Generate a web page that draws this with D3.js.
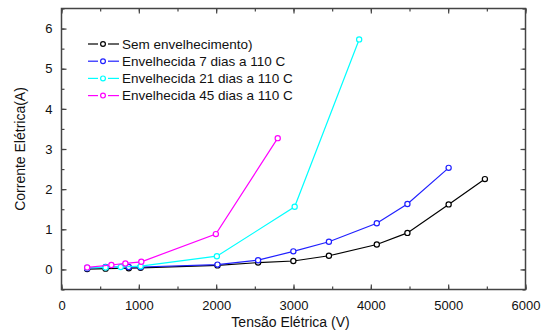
<!DOCTYPE html>
<html>
<head>
<meta charset="utf-8">
<script src="https://cdn.jsdelivr.net/npm/d3@7"></script>
<style>
  body { margin: 0; background: #fff; }
  svg text { font-family: "Liberation Sans", Arial, sans-serif; font-size: 13px; fill: #111; }
</style>
</head>
<body>
<svg id="chart" width="550" height="335"></svg>
<script>
// dados
const seriesNames = ["Sem envelhecimento)", "Envelhecida 7 dias a 110 C", "Envelhecida 21 dias a 110 C", "Envelhecida 45 dias a 110 C"];
const seriesColors = ["#000000", "#2020ff", "#00ffff", "#ff00ff"];
const vSem = [332, 570, 870, 1023, 2017, 2542, 2998, 3458, 4077, 4473, 5006, 5475];
const iSem = [0.01, 0.02, 0.03, 0.04, 0.10, 0.17, 0.21, 0.34, 0.62, 0.91, 1.62, 2.25];
const v7 = [332, 570, 870, 1023, 2017, 2542, 2998, 3458, 4077, 4473, 5006];
const i7 = [0.03, 0.06, 0.06, 0.06, 0.12, 0.23, 0.45, 0.69, 1.15, 1.63, 2.53];
const v21 = [332, 570, 766, 1023, 2009, 3015, 3849];
const i21 = [0.04, 0.05, 0.06, 0.08, 0.33, 1.56, 5.73];
const v45 = [332, 645, 826, 1032, 1996, 2796];
const i45 = [0.05, 0.11, 0.15, 0.19, 0.88, 3.27];
const xTicks = [0, 1000, 2000, 3000, 4000, 5000, 6000];
const yTicks = [0, 1, 2, 3, 4, 5, 6];

const svg = d3.select("#chart");
const plot = {left: 61.5, right: 525.5, top: 8.5, bottom: 289.5};

const x = d3.scaleLinear().domain([0, 6000]).range([plot.left, plot.right]);
const y = d3.scaleLinear().domain([-0.5, 6.5]).range([plot.bottom, plot.top]);

const series = [
  {v: vSem, i: iSem},
  {v: v7, i: i7},
  {v: v21, i: i21},
  {v: v45, i: i45}
];

// eixos com ticks para dentro
const frame = "#444";
function styleAxis(g) {
  g.select(".domain").remove();
  g.selectAll("line").attr("stroke", frame).attr("stroke-width", 1.2);
}
const xMinor = d3.range(0, 6001, 500);
const yMinor = d3.range(-0.5, 6.51, 0.5);

svg.append("g").attr("transform", `translate(0,${plot.bottom})`)
  .call(d3.axisBottom(x).tickValues(xMinor).tickSize(-3).tickFormat(""))
  .call(styleAxis);
svg.append("g").attr("transform", `translate(0,${plot.bottom})`)
  .call(d3.axisBottom(x).tickValues(xTicks).tickSize(-5).tickPadding(11).tickFormat(d3.format("d")))
  .call(styleAxis);
svg.append("g").attr("transform", `translate(0,${plot.top})`)
  .call(d3.axisTop(x).tickValues(xMinor).tickSize(-3).tickFormat(""))
  .call(styleAxis);
svg.append("g").attr("transform", `translate(0,${plot.top})`)
  .call(d3.axisTop(x).tickValues(xTicks).tickSize(-5).tickFormat(""))
  .call(styleAxis);
svg.append("g").attr("transform", `translate(${plot.left},0)`)
  .call(d3.axisLeft(y).tickValues(yMinor).tickSize(-3).tickFormat(""))
  .call(styleAxis);
svg.append("g").attr("transform", `translate(${plot.left},0)`)
  .call(d3.axisLeft(y).tickValues(yTicks).tickSize(-5).tickPadding(9).tickFormat(d3.format("d")))
  .call(styleAxis);
svg.append("g").attr("transform", `translate(${plot.right},0)`)
  .call(d3.axisRight(y).tickValues(yMinor).tickSize(-3).tickFormat(""))
  .call(styleAxis);
svg.append("g").attr("transform", `translate(${plot.right},0)`)
  .call(d3.axisRight(y).tickValues(yTicks).tickSize(-5).tickFormat(""))
  .call(styleAxis);

svg.selectAll(".tick text").style("font-size", "13px").attr("fill", "#111");

svg.append("rect")
  .attr("x", plot.left).attr("y", plot.top)
  .attr("width", plot.right - plot.left).attr("height", plot.bottom - plot.top)
  .attr("fill", "none").attr("stroke", frame).attr("stroke-width", 1.5);

// linhas e marcadores
const line = d3.line().x(d => x(d[0])).y(d => y(d[1]));
series.forEach((s, k) => {
  const pts = s.v.map((v, j) => [v, s.i[j]]);
  svg.append("path").datum(pts)
    .attr("d", line)
    .attr("fill", "none")
    .attr("stroke", seriesColors[k])
    .attr("stroke-width", 1.2);
  svg.append("g").selectAll("circle")
    .data(pts)
    .join("circle")
    .attr("cx", d => x(d[0]))
    .attr("cy", d => y(d[1]))
    .attr("r", 2.6)
    .attr("fill", "#fff")
    .attr("stroke", seriesColors[k])
    .attr("stroke-width", 1.2);
});

// legenda: "— o —"
const legend = svg.append("g").attr("transform", "translate(88,44)");
seriesNames.forEach((name, k) => {
  const g = legend.append("g").attr("transform", `translate(0,${k * 17.2})`);
  [[0, 10], [20, 31]].forEach(seg => {
    g.append("line").attr("x1", seg[0]).attr("x2", seg[1]).attr("y1", 0).attr("y2", 0)
      .attr("stroke", seriesColors[k]).attr("stroke-width", 1.2);
  });
  g.append("circle").attr("cx", 15).attr("cy", 0).attr("r", 2.4)
    .attr("fill", "#fff").attr("stroke", seriesColors[k]).attr("stroke-width", 1.2);
  g.append("text").attr("x", 34).attr("y", 0).attr("dy", "0.35em")
    .style("font-size", "13.5px").text(name);
});

// títulos dos eixos
svg.append("text")
  .attr("x", (plot.left + plot.right) / 2 - 3).attr("y", 327)
  .attr("text-anchor", "middle")
  .style("font-size", "14px")
  .text("Tensão Elétrica (V)");
svg.append("text")
  .attr("transform", `translate(25,${(plot.top + plot.bottom) / 2}) rotate(-90)`)
  .attr("text-anchor", "middle")
  .style("font-size", "14px")
  .text("Corrente Elétrica(A)");
</script>
</body>
</html>
